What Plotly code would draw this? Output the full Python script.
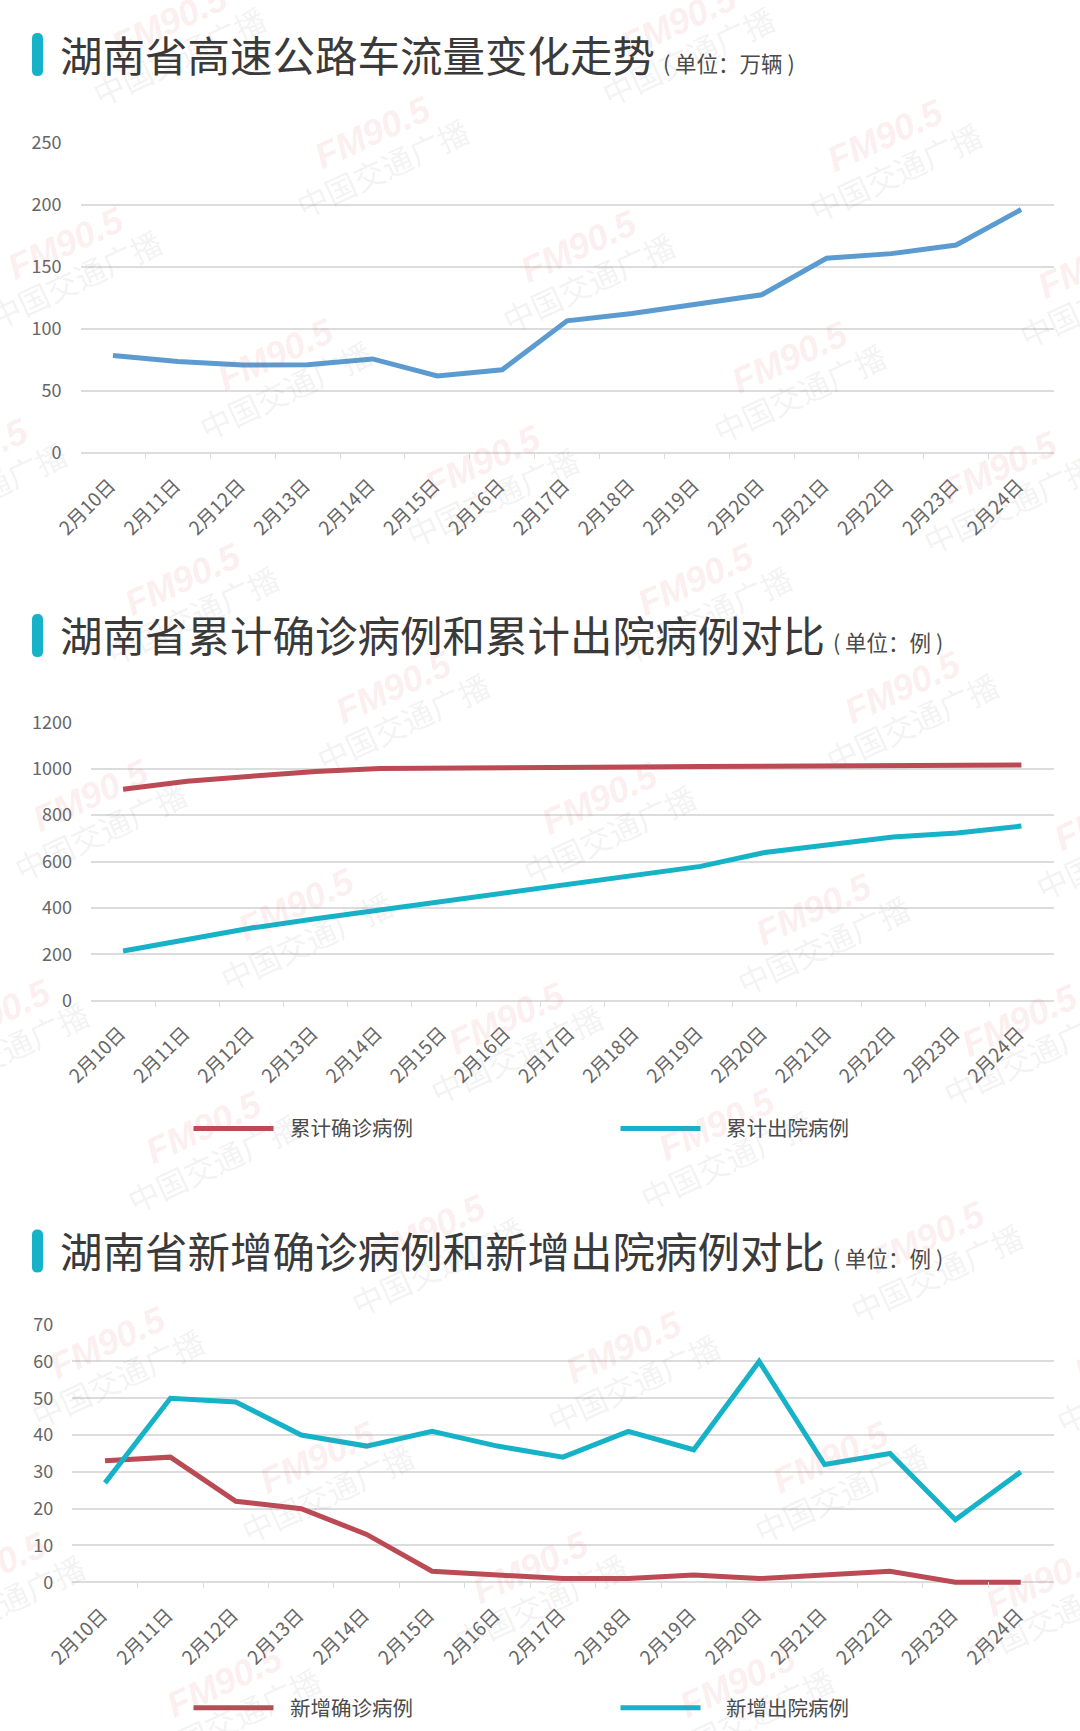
import plotly.graph_objects as go

WIDTH = 1080
HEIGHT = 1731

dates = ["2月10日", "2月11日", "2月12日", "2月13日", "2月14日", "2月15日", "2月16日", "2月17日",
         "2月18日", "2月19日", "2月20日", "2月21日", "2月22日", "2月23日", "2月24日"]

traffic = [78.5, 73.6, 70.8, 71, 75.7, 62, 67, 106.4, 112.2, 120, 127.4, 156.8, 160.5, 167.4, 196]

total_confirmed = [912, 946, 968, 988, 1001, 1004, 1006, 1007, 1008, 1010, 1011, 1013, 1016, 1016, 1016]
total_discharged = [214, 264, 313, 353, 390, 431, 468, 502, 543, 579, 639, 671, 706, 723, 753]

new_confirmed = [33, 34, 22, 20, 13, 3, 2, 1, 1, 2, 1, 2, 3, 0, 0]
new_discharged = [27, 50, 49, 40, 37, 41, 37, 34, 41, 36, 60, 32, 35, 17, 30]

# watermark anchors, in page pixels
stamps = [(169, 21), (678, 21), (372, 132), (885, 136), (65, 243), (578, 246), (1095, 262),
          (275, 354), (789, 357), (-30, 455), (482, 461), (999, 468), (182, 579), (695, 579),
          (393, 687), (902, 687), (90, 795), (599, 798), (1112, 815), (296, 905), (813, 909),
          (-8, 1015), (506, 1018), (1019, 1020), (203, 1127), (716, 1124), (427, 1230), (926, 1237),
          (107, 1342), (623, 1347), (1132, 1348), (317, 1457), (830, 1457), (-12, 1568), (530, 1567),
          (1043, 1580), (224, 1681), (737, 1681)]

BLUE = "#5b9bd0"
RED = "#bb4a54"
TEAL = "#15b2c8"
GRID = "#dcdcdc"
TEXT = "#666666"
FONT = "Noto Sans CJK SC"

# en/hair spaces open the gap between legend sample and label
GAP_LEFT = "\u2002\u200a"
GAP_RIGHT = "\u2002\u2002"

# lines get clipped at the plot edge, so each y axis runs this many pixels below
# zero; the zero line is the visible baseline and the x ticks fill the strip
BASE_PAD = 6


def px(x):
    return x / WIDTH


def py(y):
    return 1 - y / HEIGHT


fig = go.Figure()

panels = [
    dict(left=80.6, top=142.5, bottom=452.9, ymax=250, dtick=50, series=[("traffic", traffic, BLUE)]),
    dict(left=91, top=722.4, bottom=1000.6, ymax=1200, dtick=200,
         series=[(GAP_LEFT + "累计确诊病例", total_confirmed, RED), (GAP_RIGHT + "累计出院病例", total_discharged, TEAL)],
         legend_y=1128.6),
    dict(left=72.3, top=1324.6, bottom=1582.3, ymax=70, dtick=10,
         series=[(GAP_LEFT + "新增确诊病例", new_confirmed, RED), (GAP_RIGHT + "新增出院病例", new_discharged, TEAL)],
         legend_y=1708),
]

for i, panel in enumerate(panels):
    n = "" if i == 0 else str(i + 1)
    per_pixel = panel["ymax"] / (panel["bottom"] - panel["top"])
    for name, values, color in panel["series"]:
        fig.add_trace(go.Scatter(
            x=dates, y=values, name=name, mode="lines",
            line=dict(color=color, width=5),
            xaxis=f"x{n}", yaxis=f"y{n}",
            showlegend="legend_y" in panel,
            legend="legend" if i == 1 else "legend2",
        ))
    fig.update_layout({
        f"xaxis{n}": dict(
            domain=[px(panel["left"]), px(1053.5)], anchor=f"y{n}", type="category",
            range=[-0.5, 14.5], tickson="boundaries", ticks="inside", ticklen=BASE_PAD,
            tickcolor=GRID, showline=False, showgrid=False,
            tickangle=-45, automargin=False, ticklabelstandoff=11, ticklabelshift=-3,
            tickfont=dict(family=FONT, size=19, color=TEXT),
        ),
        f"yaxis{n}": dict(
            domain=[py(panel["bottom"] + BASE_PAD), py(panel["top"])], anchor=f"x{n}",
            range=[-BASE_PAD * per_pixel, panel["ymax"]], tick0=0, dtick=panel["dtick"],
            gridcolor=GRID, gridwidth=1.5, zeroline=True, zerolinecolor=GRID, zerolinewidth=1.5,
            ticks="", ticklabelstandoff=18, automargin=False,
            tickfont=dict(family=FONT, size=18, color=TEXT),
        ),
    })

annotations = []
for x, y in stamps:
    annotations.append(dict(
        text="<b><i>FM90.5</i></b>", x=px(x), y=py(y), xref="paper", yref="paper", showarrow=False,
        xanchor="center", yanchor="middle", textangle=-25,
        font=dict(family="Liberation Sans", size=36, color="rgba(225,90,90,0.11)"),
    ))
    annotations.append(dict(
        text="中国交通广播", x=px(x + 10), y=py(y + 35), xref="paper", yref="paper", showarrow=False,
        xanchor="center", yanchor="middle", textangle=-25,
        font=dict(family=FONT, size=31, color="rgba(130,130,130,0.11)"),
    ))

titles = [
    ("湖南省高速公路车流量变化走势", "( 单位：万辆 )", 53, 62.5, 661, 33),
    ("湖南省累计确诊病例和累计出院病例对比", "( 单位：例 )", 633, 641, 831, 614),
    ("湖南省新增确诊病例和新增出院病例对比", "( 单位：例 )", 1249, 1257.6, 831, 1229.5),
]

shapes = []
for title, unit_text, title_y, unit_y, unit_x, bar_top in titles:
    annotations.append(dict(
        text=title, x=px(58), y=py(title_y), xref="paper", yref="paper", showarrow=False,
        xanchor="left", yanchor="middle",
        font=dict(family=FONT, size=42.5, color="#3a3a3a"),
    ))
    annotations.append(dict(
        text=unit_text, x=px(unit_x), y=py(unit_y), xref="paper", yref="paper", showarrow=False,
        xanchor="left", yanchor="middle",
        font=dict(family=FONT, size=21.5, color="#4a4a4a"),
    ))
    # rounded marker next to the title
    x0, x1, y0, y1, r = 32, 43, bar_top, bar_top + 43, 5.5
    path = (
        f"M {px(x0)} {py(y0 + r)} Q {px(x0)} {py(y0)} {px(x0 + r)} {py(y0)} "
        f"Q {px(x1)} {py(y0)} {px(x1)} {py(y0 + r)} L {px(x1)} {py(y1 - r)} "
        f"Q {px(x1)} {py(y1)} {px(x1 - r)} {py(y1)} Q {px(x0)} {py(y1)} {px(x0)} {py(y1 - r)} Z"
    )
    shapes.append(dict(type="path", path=path, xref="paper", yref="paper", fillcolor=TEAL, line_width=0))

legend_style = dict(
    orientation="h", xanchor="left", yanchor="middle", x=px(188.5), itemwidth=80,
    entrywidth=332, entrywidthmode="pixels", bgcolor="rgba(0,0,0,0)", traceorder="normal",
    font=dict(family=FONT, size=20.5, color="#4a4a4a"),
)

fig.update_layout(
    width=WIDTH,
    height=HEIGHT,
    margin=dict(l=0, r=0, t=0, b=0),
    paper_bgcolor="white",
    plot_bgcolor="rgba(0,0,0,0)",
    autosize=False,
    annotations=annotations,
    shapes=shapes,
    legend=dict(legend_style, y=py(1128.6)),
    legend2=dict(legend_style, y=py(1708)),
)

fig.write_html("out.html", config={"displayModeBar": False},
               post_script="document.body.style.margin='0';")
